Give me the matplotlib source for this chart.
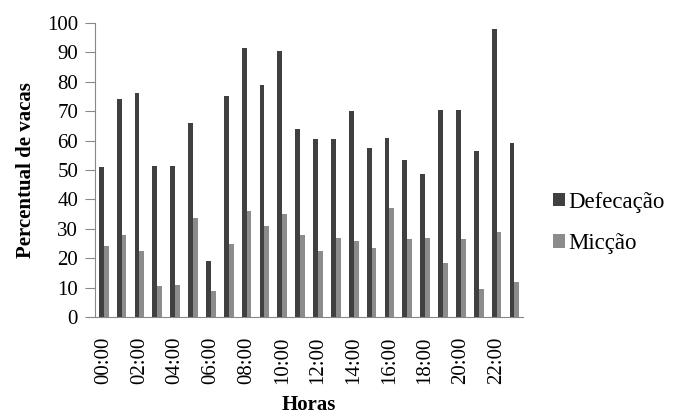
import matplotlib

matplotlib.use("Agg")

import numpy as np  # noqa: E402
import matplotlib.pyplot as plt  # noqa: E402

horas = [f"{h:02d}:00" for h in range(24)]
defecacao = [51, 74, 76, 51.5, 51.5, 66, 19, 75, 91.5, 79, 90.5, 64,
             60.5, 60.5, 70, 57.5, 61, 53.5, 48.5, 70.5, 70.5, 56.5, 98, 59]
miccao = [24, 28, 22.5, 10.5, 11, 33.5, 9, 25, 36, 31, 35, 28,
          22.5, 27, 26, 23.5, 37, 26.5, 27, 18.5, 26.5, 9.5, 29, 12]

plt.rcParams["font.family"] = ["Liberation Serif", "DejaVu Serif"]

fig = plt.figure(figsize=(6.77, 4.15), dpi=100)
ax = fig.add_axes([0.14, 0.236, 0.633, 0.709])

x = np.arange(len(horas))
w = 0.27
ax.bar(x - w / 2, defecacao, width=w, color="#404040", label="Defecação")
ax.bar(x + w / 2, miccao, width=w, color="#8c8c8c", label="Micção")

ax.set_xlim(-0.5, len(horas) - 0.5)
ax.set_ylim(0, 100)
ax.set_yticks(range(0, 101, 10))
ax.set_xticks(x[::2])
ax.set_xticklabels(horas[::2], rotation=90, fontsize=15)
ax.tick_params(axis="y", labelsize=15, length=7, color="#888888", direction="out", pad=5)
ax.tick_params(axis="x", length=0, pad=14)

for side in ("top", "right"):
    ax.spines[side].set_visible(False)
for side in ("left", "bottom"):
    ax.spines[side].set_color("#888888")

ax.set_ylabel("Percentual de vacas", fontsize=15, fontweight="bold", labelpad=8)
ax.set_xlabel("Horas", fontsize=15, fontweight="bold", labelpad=8)

ax.legend(loc="center left", bbox_to_anchor=(1.02, 0.32), frameon=False,
          fontsize=16.5, handlelength=0.55, handleheight=0.55, handletextpad=0.15,
          labelspacing=0.9)

fig.savefig("out.png", dpi=100)
